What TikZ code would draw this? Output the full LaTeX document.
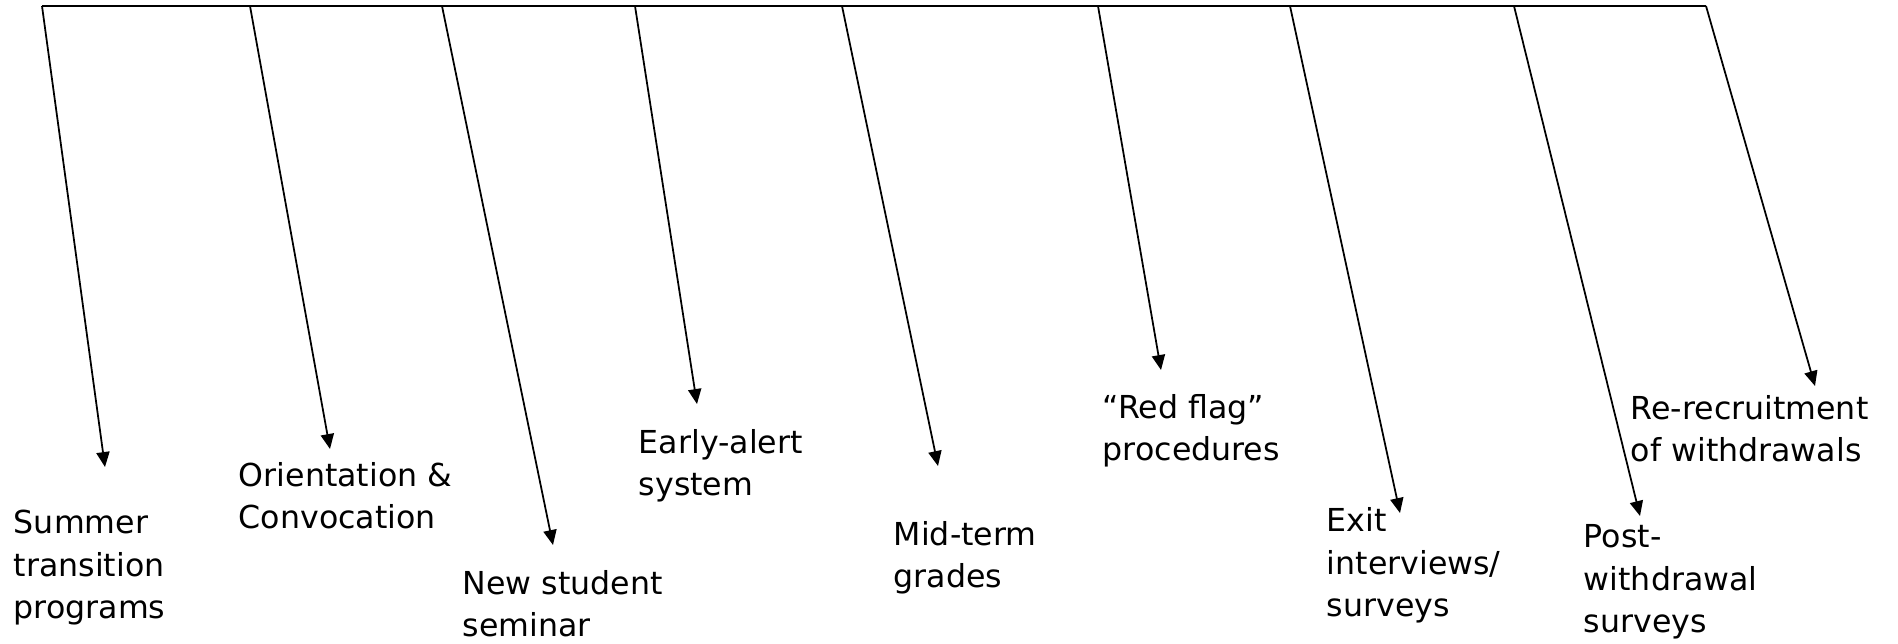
\documentclass[tikz,border=0pt]{standalone}
\usepackage{fontspec}
\setmainfont{DejaVu Sans}
\usetikzlibrary{arrows.meta}

\begin{document}
\begin{tikzpicture}[x=0.02cm, y=-0.02cm, line width=1pt,
            stepline/.style={-{Triangle[length=8.5pt, width=7.5pt]}},
            labelnode/.style={anchor=base west, inner sep=0pt, align=left, font=\fontsize{18}{24.4}\selectfont},
        ]
        \useasboundingbox (0,0) rectangle (1898,644);

        %Points on the top line
        \coordinate (summertop)    at (42,6);
        \coordinate (orienttop)    at (250,6);
        \coordinate (seminartop)   at (442,6);
        \coordinate (alerttop)     at (635,6);
        \coordinate (midtermtop)   at (842,6);
        \coordinate (redflagtop)   at (1098,6);
        \coordinate (exittop)      at (1290,6);
        \coordinate (posttop)      at (1514,6);
        \coordinate (recruittop)   at (1706,6);

        %Arrow tips
        \coordinate (summertip)    at (105,467);
        \coordinate (orienttip)    at (330,449);
        \coordinate (seminartip)   at (553,545);
        \coordinate (alerttip)     at (697,404);
        \coordinate (midtermtip)   at (938,466);
        \coordinate (redflagtip)   at (1161,370);
        \coordinate (exittip)      at (1400,513);
        \coordinate (posttip)      at (1640,516);
        \coordinate (recruittip)   at (1815,386);

        %Labels (placed at the baseline of their last line)
        \node[labelnode] (summer)   at (13,619)   {Summer\\transition\\programs};
        \node[labelnode] (orient)   at (238,529)  {Orientation \&\\Convocation};
        \node[labelnode] (seminar)  at (462,637)  {New student\\seminar};
        \node[labelnode] (alert)    at (638,496)  {Early-alert\\system};
        \node[labelnode] (midterm)  at (893,588)  {Mid-term\\grades};
        \node[labelnode] (redflag)  at (1102,461) {“Red flag”\\procedures};
        \node[labelnode] (exit)     at (1326,617) {Exit\\interviews/\\surveys};
        \node[labelnode] (post)     at (1583,633) {Post-\\withdrawal\\surveys};
        \node[labelnode] (recruit)  at (1630,462) {Re-recruitment\\of withdrawals};

        %Lines
        \draw (summertop) -- (recruittop);
        \draw[stepline] (summertop) -- (summertip);
        \draw[stepline] (orienttop) -- (orienttip);
        \draw[stepline] (seminartop) -- (seminartip);
        \draw[stepline] (alerttop) -- (alerttip);
        \draw[stepline] (midtermtop) -- (midtermtip);
        \draw[stepline] (redflagtop) -- (redflagtip);
        \draw[stepline] (exittop) -- (exittip);
        \draw[stepline] (posttop) -- (posttip);
        \draw[stepline] (recruittop) -- (recruittip);
    \end{tikzpicture}
\end{document}
